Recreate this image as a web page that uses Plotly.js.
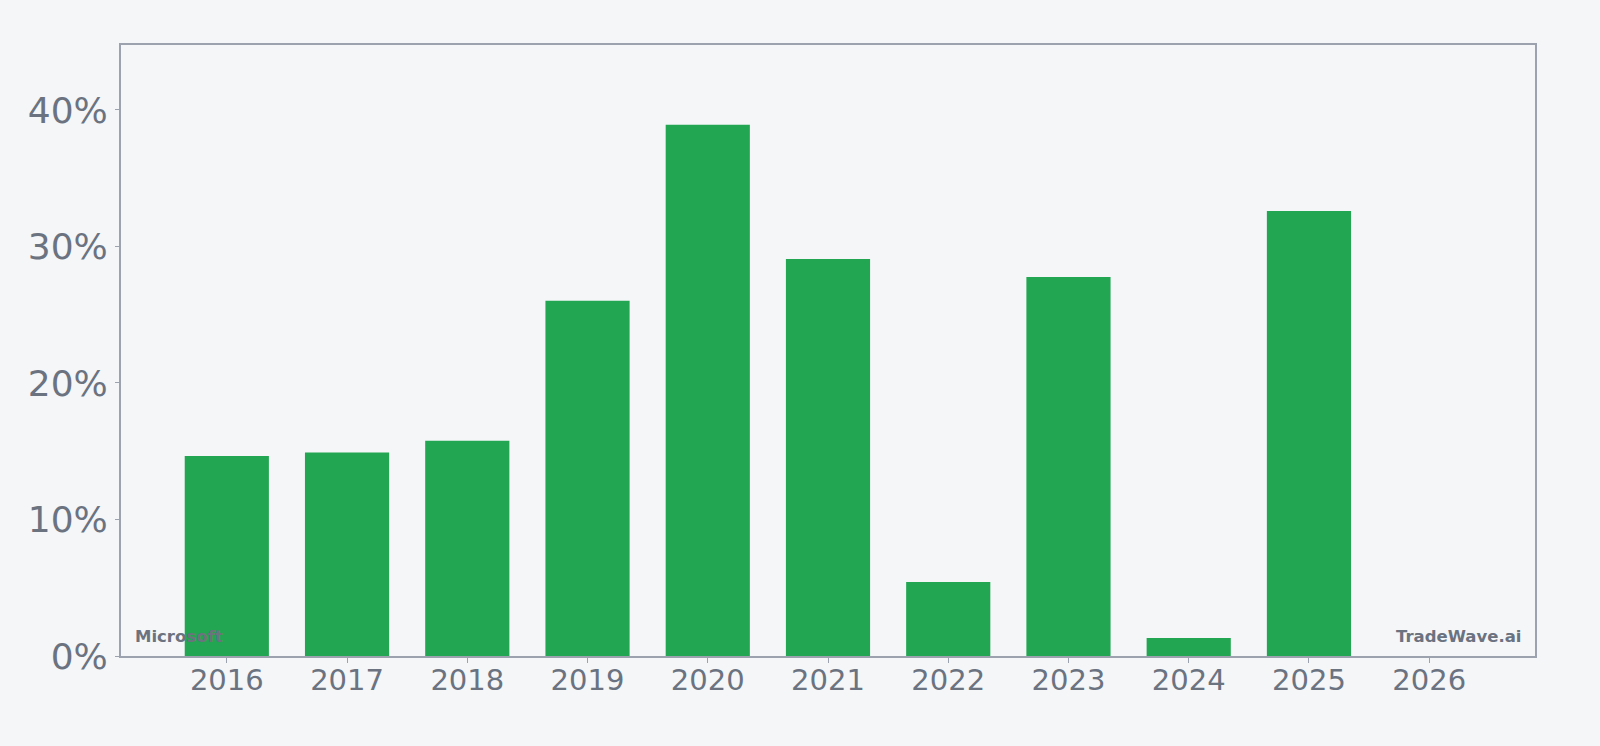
<!DOCTYPE html>
<html>
<head>
<meta charset="utf-8">
<script src="https://cdn.plot.ly/plotly-3.0.1.min.js"></script>
<style>
  html, body { margin: 0; padding: 0; background: #f4f6f8; }
  #chart { width: 1600px; height: 746px; }
</style>
</head>
<body>
<div id="chart"></div>
<script>
// yearly values, in percent
var years = [2016, 2017, 2018, 2019, 2020, 2021, 2022, 2023, 2024, 2025, 2026];
var growth = [14.65, 14.9, 15.77, 26.03, 38.92, 29.08, 5.42, 27.77, 1.32, 32.6, null];
var yTicks = [0, 10, 20, 30, 40];
var yTickText = yTicks.map(function(v){ return v + "%"; });

var textColor = "#6b7280";
var frameColor = "#9ca3af";

var trace1 = {
    type: "bar",
    x: years,
    y: growth,
    width: 0.7,
    marker: {color: "#22a651"},
    hoverinfo: "skip"
};

var layout = {
    width: 1600,
    height: 746,
    margin: {l: 121, r: 65, t: 45, b: 90},
    paper_bgcolor: "#f4f6f8",
    plot_bgcolor: "#f4f6f8",
    showlegend: false,
    font: {family: "DejaVu Sans", color: textColor},
    xaxis: {
        range: [2015.12, 2026.88],
        tickvals: years,
        ticktext: years.map(String),
        tickfont: {size: 29, color: textColor},
        ticks: "outside",
        ticklen: 5,
        tickcolor: frameColor,
        ticklabelstandoff: -8,
        showgrid: false,
        zeroline: false,
        showline: true,
        linecolor: frameColor,
        linewidth: 2,
        mirror: true
    },
    yaxis: {
        range: [0, 44.76],
        tickvals: yTicks,
        ticktext: yTickText,
        tickfont: {size: 36, color: textColor},
        ticks: "outside",
        ticklen: 4,
        tickcolor: frameColor,
        showgrid: false,
        zeroline: false,
        showline: true,
        linecolor: frameColor,
        linewidth: 2,
        mirror: true
    },
    annotations: [
        {
            text: "Microsoft",
            xref: "paper", yref: "paper",
            x: 0, y: 0,
            xanchor: "left", yanchor: "bottom",
            xshift: 12, yshift: 8,
            showarrow: false,
            font: {family: "DejaVu Sans", size: 16.5, weight: "bold", color: textColor}
        },
        {
            text: "TradeWave.ai",
            xref: "paper", yref: "paper",
            x: 1, y: 0,
            xanchor: "right", yanchor: "bottom",
            xshift: -12, yshift: 8,
            showarrow: false,
            font: {family: "DejaVu Sans", size: 16.5, weight: "bold", color: textColor}
        }
    ]
};

Plotly.newPlot("chart", [trace1], layout, {displayModeBar: false, staticPlot: true});
</script>
</body>
</html>
